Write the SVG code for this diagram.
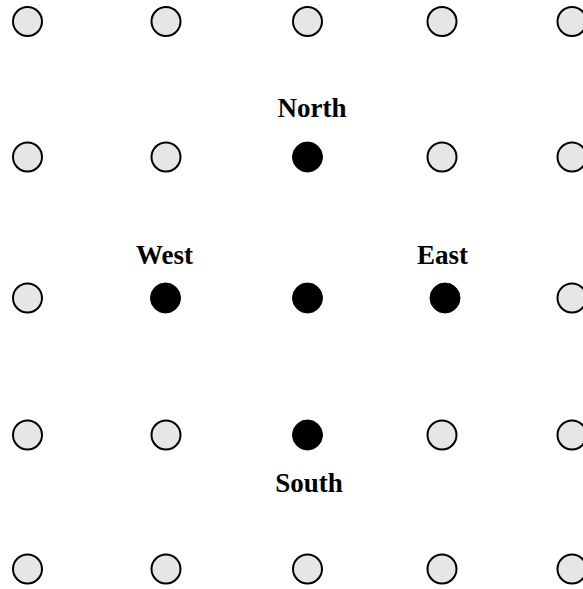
<svg xmlns="http://www.w3.org/2000/svg" width="583" height="589" viewBox="0 0 583 589">
<style>
.off{fill:#e6e6e6;stroke:#000;stroke-width:2}
.on{fill:#000;stroke:#000;stroke-width:1}
.lbl{font-family:"Liberation Serif","Times New Roman",serif;font-weight:bold;font-size:27px;text-anchor:middle;fill:#000}
</style>
<rect width="583" height="589" fill="#fff"/>
<g id="connectors"></g>
<g id="r1c1"><circle class="off" cx="27.5" cy="21.5" r="14.5"/></g>
<g id="r1c2"><circle class="off" cx="166" cy="21.5" r="14.5"/></g>
<g id="r1c3"><circle class="off" cx="307.5" cy="21.5" r="14.5"/></g>
<g id="r1c4"><circle class="off" cx="442" cy="21.5" r="14.5"/></g>
<g id="r1c5"><circle class="off" cx="572" cy="21.5" r="14.5"/></g>

<g id="r2c1"><circle class="off" cx="27.5" cy="157" r="14.5"/></g>
<g id="r2c2"><circle class="off" cx="166" cy="157" r="14.5"/></g>
<g id="north"><circle class="on" cx="307.5" cy="157" r="15"/><text class="lbl" x="312" y="117">North</text></g>
<g id="r2c4"><circle class="off" cx="442" cy="157" r="14.5"/></g>
<g id="r2c5"><circle class="off" cx="572" cy="157" r="14.5"/></g>

<g id="r3c1"><circle class="off" cx="27.5" cy="298" r="14.5"/></g>
<g id="west"><circle class="on" cx="165.5" cy="298" r="15"/><text class="lbl" x="164.5" y="264">West</text></g>
<g id="center"><circle class="on" cx="307.5" cy="298" r="15"/></g>
<g id="east"><circle class="on" cx="445" cy="298" r="15"/><text class="lbl" x="442.5" y="264">East</text></g>
<g id="r3c5"><circle class="off" cx="572" cy="298" r="14.5"/></g>

<g id="r4c1"><circle class="off" cx="27.5" cy="435" r="14.5"/></g>
<g id="r4c2"><circle class="off" cx="166" cy="435" r="14.5"/></g>
<g id="south"><circle class="on" cx="307.5" cy="435" r="15"/><text class="lbl" x="309" y="492">South</text></g>
<g id="r4c4"><circle class="off" cx="442" cy="435" r="14.5"/></g>
<g id="r4c5"><circle class="off" cx="572" cy="435" r="14.5"/></g>

<g id="r5c1"><circle class="off" cx="27.5" cy="569" r="14.5"/></g>
<g id="r5c2"><circle class="off" cx="166" cy="569" r="14.5"/></g>
<g id="r5c3"><circle class="off" cx="307.5" cy="569" r="14.5"/></g>
<g id="r5c4"><circle class="off" cx="442" cy="569" r="14.5"/></g>
<g id="r5c5"><circle class="off" cx="572" cy="569" r="14.5"/></g>
</svg>
